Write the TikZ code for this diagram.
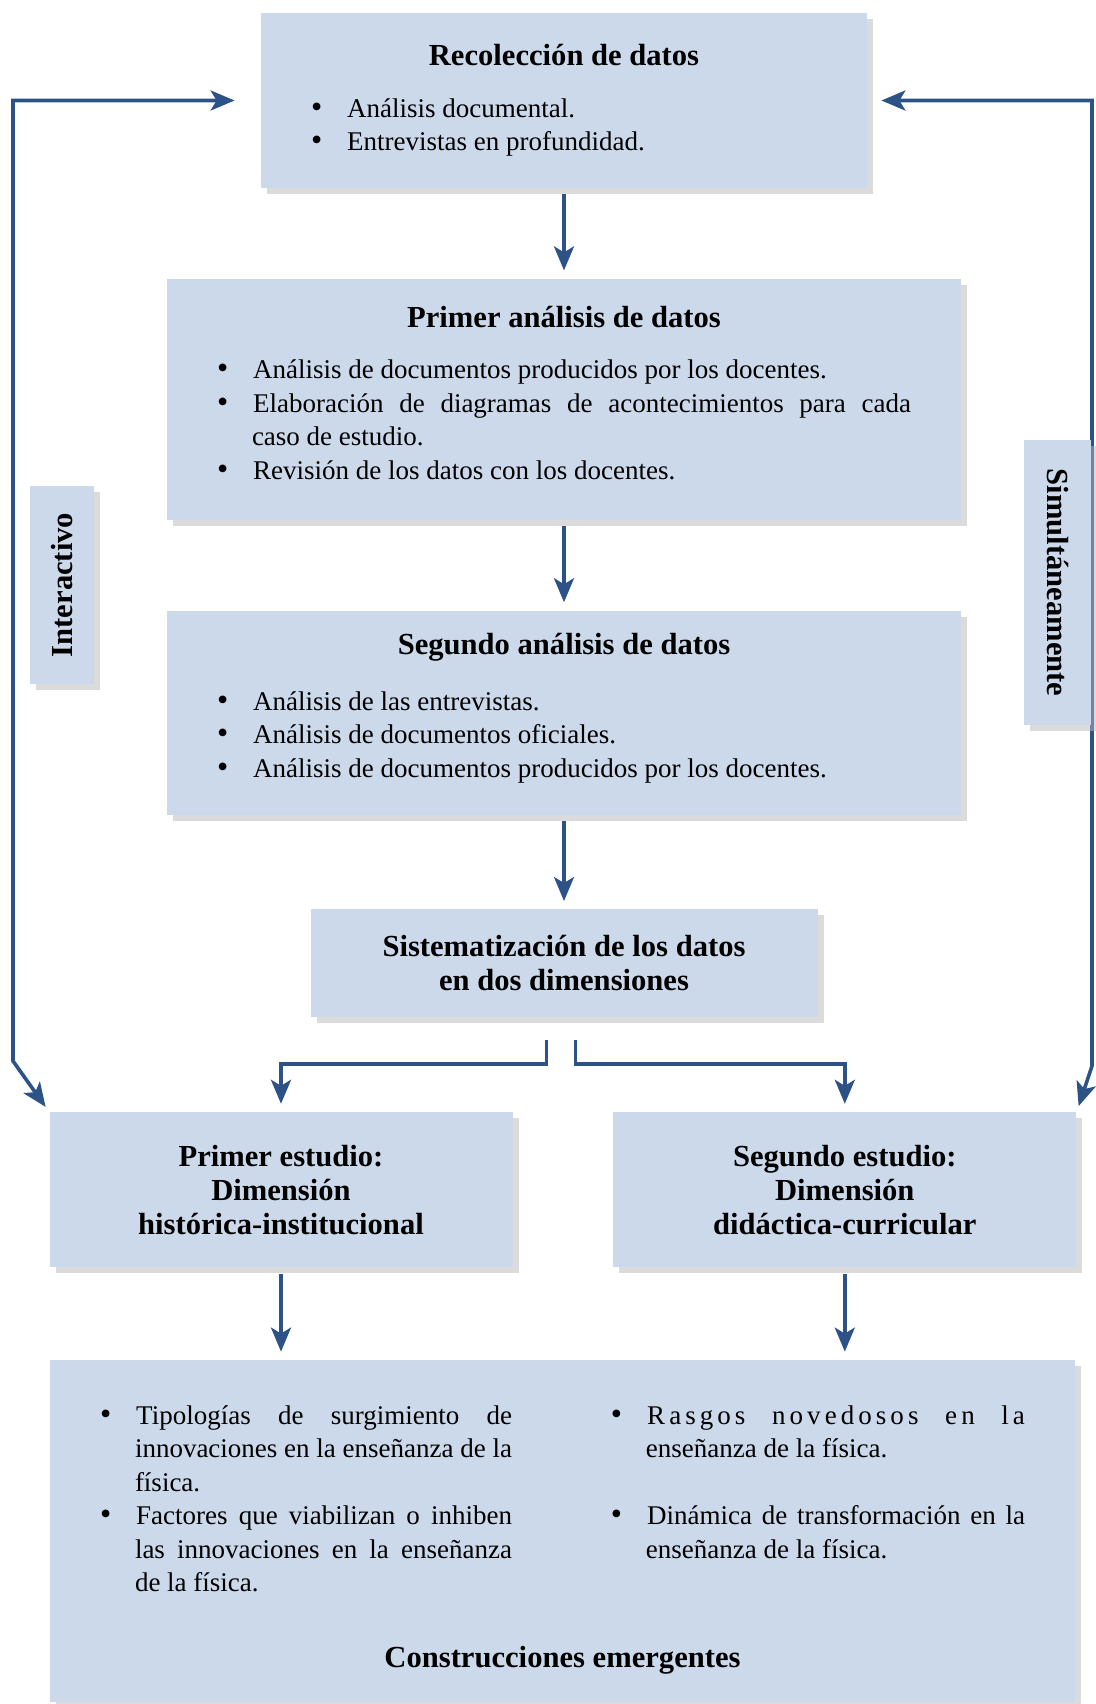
\documentclass[tikz,border=0pt]{standalone}
\usepackage{fontspec}
\setmainfont{Liberation Serif}
\usetikzlibrary{arrows.meta,positioning,shadows}
\definecolor{cajaazul}{RGB}{204,217,234}
\definecolor{flechaazul}{RGB}{44,82,136}
\newcommand{\titulo}{\fontsize{15.3}{17}\selectfont\bfseries}
\newcommand{\cuerpo}{\fontsize{13.5}{16.75}\selectfont}
\newcommand{\punto}{{\fontsize{16}{16}\selectfont\textbullet}}
\newcommand{\relleno}[1]{\vspace{#1}\hrule height 0pt}
\newenvironment{vinetas}[1][0pt]{\begin{list}{\punto}{\setlength{\leftmargin}{17.5pt}\setlength{\labelwidth}{5pt}\setlength{\labelsep}{12.5pt}\setlength{\itemsep}{#1}\setlength{\parsep}{0pt}\setlength{\topsep}{0pt}\setlength{\partopsep}{0pt}}}{\end{list}}

\begin{document}
\begin{tikzpicture}[x=0.5pt,y=-0.5pt,node distance=45pt,
    caja/.style={fill=cajaazul,drop shadow={shadow xshift=3pt,shadow yshift=-3pt,fill=black!28,opacity=.5},inner xsep=25pt,inner ysep=6pt,font=\cuerpo},
    lista/.style={caja,align=justify},
    titcaja/.style={caja,align=center,font=\titulo},
    lado/.style={caja,inner xsep=4pt,inner ysep=2pt,font=\titulo},
    arr/.style={-{Stealth[length=12pt,width=10pt,inset=3pt]},line width=1.8pt,flechaazul,shorten <=3pt,shorten >=4pt},
    doble/.style={{Stealth[length=12pt,width=10pt,inset=3pt]}-{Stealth[length=12pt,width=10pt,inset=3pt]},line width=1.8pt,flechaazul}]
    \useasboundingbox (0,0) rectangle (1096,1704);
    % columna central
    \node[lista,text width=253pt,minimum height=87.5pt] (rec) at (564,100.5) {{\centering\titulo Recolección de datos\par}\vspace{9pt}
      \begin{vinetas}
        \item Análisis documental.
        \item Entrevistas en profundidad.
      \end{vinetas}};
    \node[lista,text width=347pt,minimum height=120.5pt,below=of rec] (pri) {{\centering\titulo Primer análisis de datos\par}\vspace{9pt}
      \begin{vinetas}
        \item Análisis de documentos producidos por los docentes.
        \item Elaboración de diagramas de acontecimientos para cada\linebreak caso de estudio.
        \item Revisión de los datos con los docentes.
      \end{vinetas}\relleno{6.5pt}};
    \node[lista,text width=347pt,minimum height=102pt,below=of pri] (seg) {{\centering\titulo Segundo análisis de datos\par}\vspace{11pt}
      \begin{vinetas}
        \item Análisis de las entrevistas.
        \item Análisis de documentos oficiales.
        \item Análisis de documentos producidos por los docentes.
      \end{vinetas}\relleno{4.5pt}};
    \node[titcaja,minimum width=253.5pt,minimum height=54pt,below=47pt of seg] (sis) {Sistematización de los datos\\en dos dimensiones};
    % los dos estudios
    \node[titcaja,minimum width=231.5pt,minimum height=77.5pt,below=47pt of sis,xshift=-141.5pt] (est1) {Primer estudio:\\Dimensión\\histórica-institucional};
    \node[titcaja,minimum width=231.5pt,minimum height=77.5pt,right=50pt of est1] (est2) {Segundo estudio:\\Dimensión\\didáctica-curricular};
    \node[lista,text width=462.5pt,minimum height=171pt,below=46pt of est1,xshift=140.75pt] (cons) {\hrule height 0pt\vspace{9pt}\parbox[t]{206pt}{\begin{vinetas}
        \item Tipologías de surgimiento de\linebreak innovaciones en la enseñanza de la\linebreak física.
        \item Factores que viabilizan o inhiben\linebreak las innovaciones en la enseñanza\linebreak de la física.
      \end{vinetas}}\hfill\parbox[t]{207pt}{\begin{vinetas}[16.75pt]
        \item {\addfontfeatures{LetterSpace=15}Rasgos novedosos en la}\linebreak enseñanza de la física.
        \item Dinámica de transformación en la\linebreak enseñanza de la física.
      \end{vinetas}}\par\vspace{26pt}{\centering\titulo Construcciones emergentes\par}};
    % rotulos laterales
    \coordinate (codoizq) at (13,1061);
    \coordinate (cododer) at (1092,1066);
    \draw[doble,shorten <=3pt,shorten >=13pt] (est1.north west) -- (codoizq) -- (codoizq |- rec.west) -- (rec.west);
    \draw[doble,shorten <=3pt,shorten >=7pt] (est2.north east) -- (cododer) -- (cododer |- rec.east) -- (rec.east);
    \node[lado,rotate=90,minimum width=99pt,minimum height=32pt] (inter) at (62,585) {Interactivo};
    \node[lado,rotate=-90,minimum width=142.5pt,minimum height=33.5pt] (simul) at (1057.5,582.5) {Simultáneamente};
    % flechas
    \draw[arr] (rec) -- (pri);
    \draw[arr] (pri) -- (seg);
    \draw[arr] (seg) -- (sis);
    \draw[arr] ([xshift=-8.75pt,yshift=-8pt]sis.south) -- ++(0,-15pt) -| (est1.north);
    \draw[arr] ([xshift=5.75pt,yshift=-8pt]sis.south) -- ++(0,-15pt) -| (est2.north);
    \draw[arr] (est1.south) -- (est1.south |- cons.north);
    \draw[arr] (est2.south) -- (est2.south |- cons.north);
\end{tikzpicture}
\end{document}
